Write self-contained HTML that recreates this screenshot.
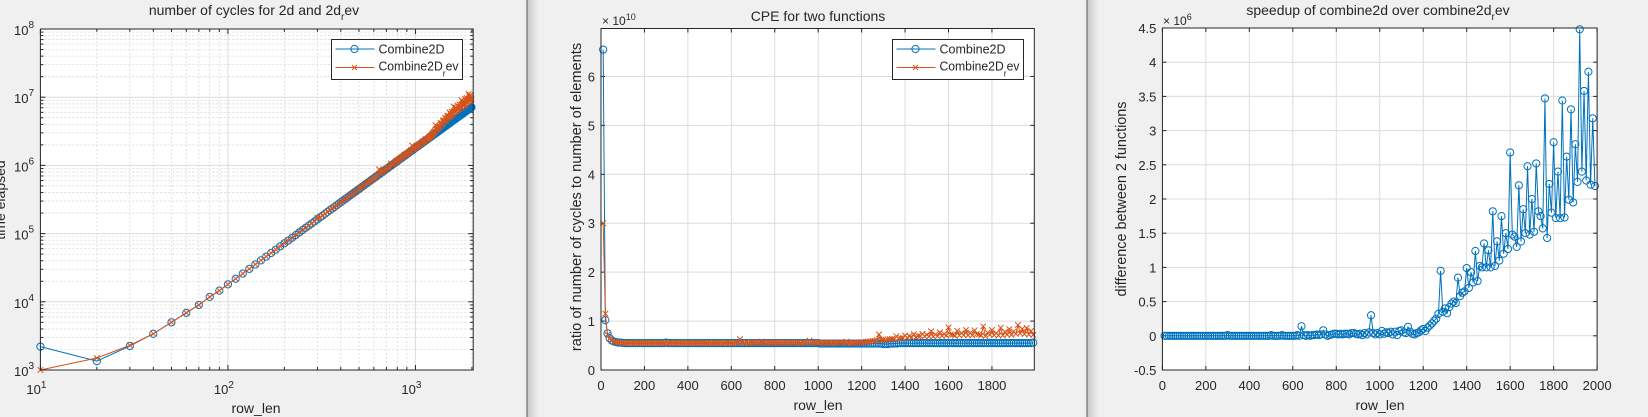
<!DOCTYPE html>
<html><head><meta charset="utf-8">
<style>
html,body{margin:0;padding:0;background:#f0f0f0;}
svg{display:block;font-family:"Liberation Sans",Arial,sans-serif;}
text{fill:#262626;}
</style></head>
<body>
<svg id="fig" width="1648" height="417" viewBox="0 0 1648 417" xmlns="http://www.w3.org/2000/svg">
<rect x="0" y="0" width="1648" height="417" fill="#f0f0f0"/>
<defs>
<linearGradient id="sh" x1="0" x2="1" y1="0" y2="0"><stop offset="0" stop-color="#c8c8c8"/><stop offset="1" stop-color="#f0f0f0"/></linearGradient>
</defs>
<rect x="527" y="0" width="12" height="417" fill="url(#sh)"/>
<line x1="527" y1="0" x2="527" y2="417" stroke="#6e6e6e" stroke-width="1.2"/>
<rect x="1087" y="0" width="12" height="417" fill="url(#sh)"/>
<line x1="1087" y1="0" x2="1087" y2="417" stroke="#6e6e6e" stroke-width="1.2"/>
<g id="p1"></g>
<g id="p2"></g>
<g id="p3"></g>
</svg>
<script>
// ---------- data ----------
const rowLen = [];
for (let i = 1; i <= 199; i++) rowLen.push(i * 10);

// cycles for Combine2D (thousands of cycles)
const cyclesCombine2D = [
2.2,1.35,2.25,3.4,5.0,6.9,9.0,11.8,14.6,18,
21.8,25.9,30.4,35.3,40.5,46.1,52,58.3,65,72,
79,87,95,104,113,122,131,141,151,162,
173,184,196,208,221,233,246,260,274,288,
303,318,333,348,365,381,398,415,432,450,
468,487,506,525,545,564,585,606,627,648,
670,692,714,737,761,784,808,832,857,882,
907,933,959,986,1013,1040,1067,1095,1123,1152,
1181,1210,1240,1270,1301,1331,1362,1394,1426,1458,
1491,1524,1557,1590,1625,1659,1694,1729,1764,1800,
1836,1873,1910,1947,1985,2022,2061,2100,2139,2178,
2218,2258,2298,2339,2381,2422,2464,2506,2549,2592,
2635,2679,2723,2768,2813,2858,2903,2949,2995,3042,
3089,3136,3184,3232,3281,3329,3378,3428,3478,3528,
3578,3630,3681,3732,3785,3837,3890,3943,3996,4050,
4104,4159,4214,4269,4325,4380,4437,4494,4551,4608,
4666,4724,4782,4841,4901,4960,5020,5080,5141,5202,
5263,5325,5387,5450,5513,5576,5639,5703,5767,5832,
5897,5962,6028,6094,6161,6227,6294,6362,6430,6498,
6567,6636,6705,6774,6845,6915,6986,7057,7128];

// cycles for Combine2D_rev (thousands of cycles)
const cyclesCombine2DRev = [
1.0,1.5,2.3,3.4,5.0,6.9,9.0,11.8,14.6,18,
21.8,25.9,30.4,35.3,40.5,46.1,52,58.3,65,72,
79,87,95,104,113,122,131,141,151,172,
173,184,196,208,221,233,246,260,274,288,
303,318,333,348,365,381,398,415,432,460,
468,487,506,525,555,564,585,606,627,648,
670,702,714,877,771,784,818,832,867,892,
927,943,979,1066,1033,1040,1077,1115,1153,1182,
1201,1240,1260,1300,1331,1351,1402,1434,1456,1478,
1521,1534,1597,1610,1675,1959,1734,1749,1804,1820,
1906,1903,1960,1987,2045,2042,2121,2110,2209,2258,
2268,2298,2428,2399,2411,2442,2504,2556,2629,2692,
2705,2799,2873,2948,3033,3108,3223,3899,3345,3442,
3419,3556,3654,3732,3761,4179,3958,4058,4128,4518,
4278,4560,4461,4972,4585,4857,4890,5293,4996,5300,
5104,5979,5234,5649,5425,6130,5637,5994,5821,7288,
6146,6174,6082,7041,6281,6810,6520,7560,6621,7202,
6783,7845,7207,7200,7083,9046,7069,7923,7567,8662,
7617,8362,7748,9534,7891,8847,8284,9672,8380,9298,
8817,11116,9105,10354,9115,10775,9196,10237,9318];

// CPE (x 1e10)
const cpeCombine2D = [
6.55,1.02,0.75,0.65,0.60,0.58,0.57,0.56,0.56,0.555,
0.55,0.55,0.55,0.55,0.55,0.55,0.55,0.55,0.55,0.55,
0.55,0.55,0.55,0.55,0.55,0.55,0.55,0.55,0.55,0.56,
0.55,0.55,0.55,0.55,0.55,0.55,0.55,0.55,0.55,0.55,
0.55,0.55,0.55,0.55,0.55,0.55,0.55,0.55,0.55,0.55,
0.55,0.55,0.55,0.55,0.55,0.55,0.55,0.55,0.55,0.55,
0.55,0.55,0.55,0.55,0.55,0.55,0.55,0.55,0.55,0.55,
0.55,0.55,0.55,0.55,0.55,0.55,0.55,0.55,0.55,0.55,
0.55,0.55,0.55,0.55,0.55,0.55,0.55,0.55,0.55,0.55,
0.55,0.55,0.55,0.55,0.55,0.55,0.55,0.55,0.55,0.55,
0.54,0.54,0.54,0.54,0.54,0.54,0.54,0.54,0.54,0.54,
0.54,0.54,0.54,0.54,0.54,0.54,0.54,0.54,0.54,0.54,
0.54,0.54,0.54,0.54,0.54,0.54,0.54,0.54,0.54,0.53,
0.53,0.53,0.54,0.54,0.54,0.54,0.55,0.55,0.55,0.55,
0.55,0.55,0.55,0.55,0.55,0.55,0.55,0.55,0.55,0.55,
0.55,0.55,0.55,0.55,0.55,0.55,0.55,0.55,0.55,0.55,
0.55,0.55,0.55,0.55,0.55,0.55,0.55,0.55,0.55,0.55,
0.55,0.55,0.55,0.55,0.55,0.55,0.55,0.55,0.55,0.55,
0.55,0.55,0.55,0.55,0.55,0.55,0.55,0.55,0.55,0.55,
0.55,0.55,0.55,0.55,0.55,0.55,0.55,0.55,0.56];

const cpeCombine2DRev = [
3.0,1.15,0.72,0.64,0.60,0.58,0.57,0.56,0.56,0.555,
0.55,0.55,0.55,0.55,0.55,0.55,0.55,0.55,0.55,0.55,
0.55,0.55,0.55,0.55,0.55,0.55,0.55,0.55,0.55,0.56,
0.55,0.55,0.55,0.55,0.55,0.55,0.55,0.55,0.55,0.55,
0.55,0.55,0.55,0.55,0.55,0.55,0.55,0.55,0.55,0.56,
0.55,0.55,0.55,0.55,0.56,0.55,0.55,0.55,0.55,0.55,
0.55,0.56,0.55,0.63,0.56,0.55,0.56,0.55,0.56,0.56,
0.56,0.56,0.56,0.58,0.56,0.55,0.56,0.56,0.56,0.56,
0.56,0.56,0.56,0.56,0.56,0.56,0.56,0.56,0.56,0.56,
0.56,0.55,0.56,0.56,0.56,0.60,0.56,0.56,0.56,0.56,
0.56,0.55,0.56,0.56,0.56,0.55,0.56,0.55,0.56,0.56,
0.56,0.56,0.58,0.56,0.55,0.55,0.56,0.56,0.56,0.57,
0.565,0.575,0.58,0.586,0.593,0.598,0.61,0.727,0.614,0.622,
0.609,0.624,0.631,0.635,0.63,0.69,0.644,0.651,0.653,0.704,
0.658,0.691,0.667,0.733,0.666,0.696,0.691,0.738,0.688,0.72,
0.684,0.791,0.683,0.726,0.69,0.77,0.699,0.734,0.703,0.87,
0.724,0.719,0.70,0.80,0.705,0.755,0.714,0.818,0.708,0.761,
0.709,0.81,0.736,0.727,0.707,0.892,0.69,0.764,0.722,0.817,
0.71,0.753,0.707,0.861,0.705,0.781,0.724,0.836,0.717,0.787,
0.739,0.921,0.747,0.84,0.733,0.857,0.724,0.798,0.719];

// difference between functions (x 1e6)
const diffCycles = [
0,0,0,0,0,0,0,0,0,0,
0,0,0,0,0,0,0,0,0,0,
0,0,0,0,0,0,0,0,0,0.01,
0,0,0,0,0,0,0,0,0,0,
0,0,0,0,0,0,0,0,0,0.01,
0,0,0,0,0.01,0,0,0,0,0,
0,0.01,0,0.14,0.01,0,0.01,0,0.01,0.01,
0.02,0.01,0.02,0.08,0.02,0,0.01,0.02,0.03,0.03,
0.02,0.03,0.02,0.03,0.03,0.02,0.04,0.04,0.03,0.02,
0.03,0.01,0.04,0.02,0.05,0.3,0.04,0.02,0.04,0.02,
0.07,0.03,0.05,0.04,0.06,0.02,0.06,0.01,0.07,0.08,
0.05,0.04,0.13,0.06,0.03,0.02,0.04,0.05,0.08,0.1,
0.07,0.12,0.15,0.18,0.22,0.25,0.32,0.95,0.35,0.4,
0.33,0.42,0.47,0.5,0.48,0.85,0.58,0.63,0.65,0.99,
0.7,0.93,0.78,1.24,0.8,1.02,1.0,1.35,1.0,1.25,
1.0,1.82,1.02,1.38,1.1,1.75,1.2,1.5,1.27,2.68,
1.48,1.45,1.3,2.2,1.38,1.85,1.5,2.48,1.48,2.0,
1.52,2.52,1.82,1.75,1.57,3.47,1.43,2.22,1.8,2.83,
1.72,2.4,1.72,3.44,1.73,2.62,1.99,3.31,1.95,2.8,
2.25,4.48,2.4,3.58,2.27,3.86,2.21,3.18,2.19];

const p2XTicks = [0,200,400,600,800,1000,1200,1400,1600,1800];
const p2YTicks = [0,1,2,3,4,5,6];
const p3XTicks = [0,200,400,600,800,1000,1200,1400,1600,1800,2000];
const p3YTicks = [-0.5,0,0.5,1,1.5,2,2.5,3,3.5,4,4.5];
const p3YTickLabels = ['-0.5','0','0.5','1','1.5','2','2.5','3','3.5','4','4.5'];
const p1XDecades = [1,2,3];
const p1YDecades = [3,4,5,6,7,8];

// ---------- helpers ----------
const NS = 'http://www.w3.org/2000/svg';
const BLUE = '#0072BD', ORANGE = '#D95319';
function mk(parent, tag, attrs, txt) {
  const e = document.createElementNS(NS, tag);
  for (const k in attrs) e.setAttribute(k, attrs[k]);
  if (txt !== undefined) e.textContent = txt;
  parent.appendChild(e);
  return e;
}
function polyline(g, xs, ys, sx, sy, color) {
  let d = '';
  for (let i = 0; i < xs.length; i++) d += (i ? 'L' : 'M') + sx(xs[i]).toFixed(2) + ' ' + sy(ys[i]).toFixed(2);
  const p = mk(g, 'path', {d: d, fill: 'none', stroke: color, 'stroke-width': 1});
  
  
}
function circles(g, xs, ys, sx, sy, color) {
  for (let i = 0; i < xs.length; i++) {
    const c = mk(g, 'circle', {cx: sx(xs[i]).toFixed(2), cy: sy(ys[i]).toFixed(2), r: 3.6, fill: 'none', stroke: color, 'stroke-width': 1});
    
    
  }
}
function crosses(g, xs, ys, sx, sy, color) {
  for (let i = 0; i < xs.length; i++) {
    const x = sx(xs[i]), y = sy(ys[i]), s = 2.8;
    const c = mk(g, 'path', {d: `M${x-s} ${y-s}L${x+s} ${y+s}M${x-s} ${y+s}L${x+s} ${y-s}`, stroke: color, 'stroke-width': 1, fill: 'none'});
    
    
  }
}
function legend(g, x, y) {
  const b = mk(g, 'rect', {x: x, y: y, width: 131, height: 40, fill: '#fff', stroke: '#262626', 'stroke-width': 1});
  
  
  mk(g, 'line', {x1: x+4, y1: y+9.5, x2: x+43, y2: y+9.5, stroke: BLUE, 'stroke-width': 1});
  mk(g, 'circle', {cx: x+23, cy: y+9.5, r: 3.6, fill: 'none', stroke: BLUE});
  const t1 = mk(g, 'text', {x: x+47, y: y+14, 'font-size': 12.5}, 'Combine2D');
  
  
  mk(g, 'line', {x1: x+4, y1: y+28, x2: x+43, y2: y+28, stroke: ORANGE, 'stroke-width': 1});
  mk(g, 'path', {d: `M${x+20.5} ${y+25.5}L${x+25.5} ${y+30.5}M${x+20.5} ${y+30.5}L${x+25.5} ${y+25.5}`, stroke: ORANGE});
  const t2 = mk(g, 'text', {x: x+47, y: y+31, 'font-size': 12.5, textLength: 80, lengthAdjust: 'spacingAndGlyphs'});
  
  
  t2.innerHTML = 'Combine2D<tspan dy="6" font-size="9">r</tspan><tspan dy="-6">ev</tspan>';
}
function frame(g, L, T, R, B) {
  const f = mk(g, 'rect', {x: L, y: T, width: R-L, height: B-T, fill: 'none', stroke: '#262626', 'stroke-width': 1});
  
  
}

// ---------- panel 1 (log-log) ----------
(function(){
  const g = document.getElementById('p1');
  const L = 40.4, R = 473.2, T = 29, B = 370;
  const xl0 = 1, xl1 = 3.308, yl0 = 3, yl1 = 8;
  const sx = v => L + (Math.log10(v) - xl0) / (xl1 - xl0) * (R - L);
  const sy = v => B - (Math.log10(v) - yl0) / (yl1 - yl0) * (B - T);
  mk(g, 'rect', {x: L, y: T, width: R-L, height: B-T, fill: '#fff'});
  for (let d = 1; d <= 3; d++) for (let m = 2; m <= 9; m++) {
    const v = m * Math.pow(10, d); if (Math.log10(v) > xl1) continue;
    const x = sx(v);
    mk(g, 'line', {x1: x, y1: T, x2: x, y2: B, stroke: '#d8d8d8', 'stroke-dasharray': '2 2', 'stroke-width': 0.8});
    mk(g, 'line', {x1: x, y1: B, x2: x, y2: B-3, stroke: '#262626'});
    mk(g, 'line', {x1: x, y1: T, x2: x, y2: T+3, stroke: '#262626'});
  }
  for (let d = 3; d < 8; d++) for (let m = 2; m <= 9; m++) {
    const y = sy(m * Math.pow(10, d));
    mk(g, 'line', {x1: L, y1: y, x2: R, y2: y, stroke: '#d8d8d8', 'stroke-dasharray': '2 2', 'stroke-width': 0.8});
    mk(g, 'line', {x1: L, y1: y, x2: L+3, y2: y, stroke: '#262626'});
    mk(g, 'line', {x1: R, y1: y, x2: R-3, y2: y, stroke: '#262626'});
  }
  p1XDecades.forEach(d => {
    const x = sx(Math.pow(10, d));
    mk(g, 'line', {x1: x, y1: T, x2: x, y2: B, stroke: '#dcdcdc'});
    mk(g, 'line', {x1: x, y1: B, x2: x, y2: B-5, stroke: '#262626'});
    mk(g, 'line', {x1: x, y1: T, x2: x, y2: T+5, stroke: '#262626'});
    const t = mk(g, 'text', {x: x-4, y: 394, 'font-size': 13, 'text-anchor': 'middle'});
    
    
    t.innerHTML = '10<tspan dy="-6" font-size="10">' + d + '</tspan>';
  });
  p1YDecades.forEach(d => {
    const y = sy(Math.pow(10, d));
    mk(g, 'line', {x1: L, y1: y, x2: R, y2: y, stroke: '#dcdcdc'});
    mk(g, 'line', {x1: L, y1: y, x2: L+5, y2: y, stroke: '#262626'});
    mk(g, 'line', {x1: R, y1: y, x2: R-5, y2: y, stroke: '#262626'});
    const t = mk(g, 'text', {x: 14, y: y+6, 'font-size': 13});
    
    
    t.innerHTML = '10<tspan dy="-7" font-size="10">' + d + '</tspan>';
  });
  const cyc2d = cyclesCombine2D.map(v => v * 1000);
  const cycRev = cyclesCombine2DRev.map(v => v * 1000);
  polyline(g, rowLen, cyc2d, sx, sy, BLUE);
  circles(g, rowLen, cyc2d, sx, sy, BLUE);
  polyline(g, rowLen, cycRev, sx, sy, ORANGE);
  crosses(g, rowLen, cycRev, sx, sy, ORANGE);
  frame(g, L, T, R, B);
  legend(g, 331.5, 39.5);
  const tt = mk(g, 'text', {x: 254, y: 15, 'font-size': 14, 'text-anchor': 'middle'});
  
  
  tt.innerHTML = 'number of cycles for 2d and 2d<tspan dy="5" font-size="10">r</tspan><tspan dy="-5">ev</tspan>';
  const xl = mk(g, 'text', {x: 256, y: 413, 'font-size': 14, 'text-anchor': 'middle'}, 'row_len');
  
  
  const yl = mk(g, 'text', {x: 0, y: 0, 'font-size': 14, 'text-anchor': 'middle', transform: 'translate(5,200) rotate(-90)'}, 'time elapsed');
  
  
})();

// ---------- panel 2 ----------
(function(){
  const g = document.getElementById('p2');
  const L = 601, R = 1034.3, T = 28.5, B = 370;
  const x0 = 0, x1 = 1995, y0 = 0, y1 = 6.98;
  const sx = v => L + (v - x0) / (x1 - x0) * (R - L);
  const sy = v => B - (v - y0) / (y1 - y0) * (B - T);
  mk(g, 'rect', {x: L, y: T, width: R-L, height: B-T, fill: '#fff'});
  p2XTicks.forEach(v => {
    const x = sx(v);
    mk(g, 'line', {x1: x, y1: T, x2: x, y2: B, stroke: '#dcdcdc'});
    mk(g, 'line', {x1: x, y1: B, x2: x, y2: B-4, stroke: '#262626'});
    mk(g, 'line', {x1: x, y1: T, x2: x, y2: T+4, stroke: '#262626'});
    const t = mk(g, 'text', {x: x, y: 390, 'font-size': 13, 'text-anchor': 'middle'}, String(v));
    
    
  });
  p2YTicks.forEach(v => {
    const y = sy(v);
    mk(g, 'line', {x1: L, y1: y, x2: R, y2: y, stroke: '#dcdcdc'});
    mk(g, 'line', {x1: L, y1: y, x2: L+4, y2: y, stroke: '#262626'});
    mk(g, 'line', {x1: R, y1: y, x2: R-4, y2: y, stroke: '#262626'});
    const t = mk(g, 'text', {x: L-6, y: y+5, 'font-size': 13, 'text-anchor': 'end'}, String(v));
    
    
  });
  polyline(g, rowLen, cpeCombine2D, sx, sy, BLUE);
  circles(g, rowLen, cpeCombine2D, sx, sy, BLUE);
  polyline(g, rowLen, cpeCombine2DRev, sx, sy, ORANGE);
  crosses(g, rowLen, cpeCombine2DRev, sx, sy, ORANGE);
  frame(g, L, T, R, B);
  legend(g, 892.5, 39.5);
  const ex = mk(g, 'text', {x: 602, y: 25, 'font-size': 12});
  
  
  ex.innerHTML = '× 10<tspan dy="-5" font-size="9">10</tspan>';
  const tt = mk(g, 'text', {x: 818, y: 21, 'font-size': 14, 'text-anchor': 'middle'}, 'CPE for two functions');
  
  
  const xl = mk(g, 'text', {x: 818, y: 410, 'font-size': 14, 'text-anchor': 'middle'}, 'row_len');
  
  
  const yl = mk(g, 'text', {x: 0, y: 0, 'font-size': 14.6, 'text-anchor': 'middle', transform: 'translate(581,197) rotate(-90)'}, 'ratio of number of cycles to number of elements');
  
  
})();

// ---------- panel 3 ----------
(function(){
  const g = document.getElementById('p3');
  const L = 1162.4, R = 1597.1, T = 28, B = 370;
  const x0 = 0, x1 = 2000, y0 = -0.5, y1 = 4.5;
  const sx = v => L + (v - x0) / (x1 - x0) * (R - L);
  const sy = v => B - (v - y0) / (y1 - y0) * (B - T);
  mk(g, 'rect', {x: L, y: T, width: R-L, height: B-T, fill: '#fff'});
  p3XTicks.forEach(v => {
    const x = sx(v);
    mk(g, 'line', {x1: x, y1: T, x2: x, y2: B, stroke: '#dcdcdc'});
    mk(g, 'line', {x1: x, y1: B, x2: x, y2: B-4, stroke: '#262626'});
    mk(g, 'line', {x1: x, y1: T, x2: x, y2: T+4, stroke: '#262626'});
    const t = mk(g, 'text', {x: x, y: 390, 'font-size': 13, 'text-anchor': 'middle'}, String(v));
    
    
  });
  p3YTicks.forEach((v, i) => {
    const y = sy(v);
    mk(g, 'line', {x1: L, y1: y, x2: R, y2: y, stroke: '#dcdcdc'});
    mk(g, 'line', {x1: L, y1: y, x2: L+4, y2: y, stroke: '#262626'});
    mk(g, 'line', {x1: R, y1: y, x2: R-4, y2: y, stroke: '#262626'});
    const t = mk(g, 'text', {x: L-6, y: y+5, 'font-size': 13, 'text-anchor': 'end'}, p3YTickLabels[i]);
    
    
  });
  polyline(g, rowLen, diffCycles, sx, sy, BLUE);
  circles(g, rowLen, diffCycles, sx, sy, BLUE);
  frame(g, L, T, R, B);
  const ex = mk(g, 'text', {x: 1163, y: 25, 'font-size': 12});
  
  
  ex.innerHTML = '× 10<tspan dy="-5" font-size="9">6</tspan>';
  const tt = mk(g, 'text', {x: 1378, y: 15, 'font-size': 14, 'text-anchor': 'middle'});
  
  
  tt.innerHTML = 'speedup of combine2d over combine2d<tspan dy="5" font-size="10">r</tspan><tspan dy="-5">ev</tspan>';
  const xl = mk(g, 'text', {x: 1380, y: 410, 'font-size': 14, 'text-anchor': 'middle'}, 'row_len');
  
  
  const yl = mk(g, 'text', {x: 0, y: 0, 'font-size': 14.4, 'text-anchor': 'middle', transform: 'translate(1126,199) rotate(-90)'}, 'difference between 2 functions');
  
  
})();
</script>
</body></html>
